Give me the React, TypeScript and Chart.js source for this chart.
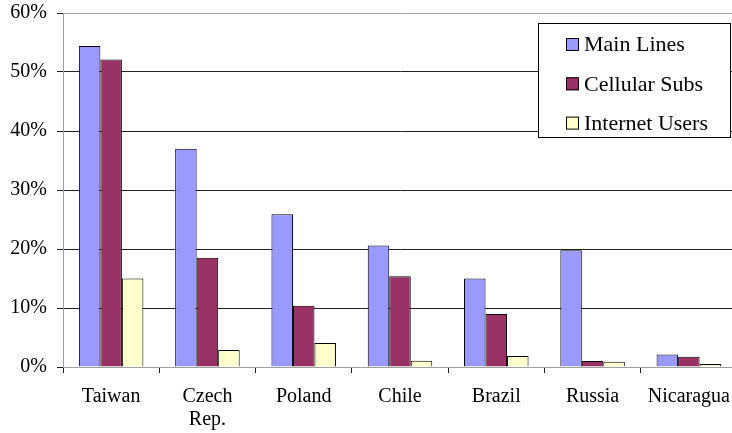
import React, { useEffect, useRef } from "react";
import { Chart, registerables } from "chart.js";

Chart.register(...registerables);

const categories: (string | string[])[] = ["Taiwan", ["Czech", "Rep."], "Poland", "Chile", "Brazil", "Russia", "Nicaragua"];
const seriesNames = ["Main Lines", "Cellular Subs", "Internet Users"];
const mainLines = [54.4, 37.0, 25.9, 20.6, 15.0, 19.8, 2.1];
const cellularSubs = [52.1, 18.5, 10.4, 15.4, 9.0, 1.0, 1.75];
const internetUsers = [15.0, 2.9, 4.05, 1.05, 1.87, 0.9, 0.5];
const seriesColors = ["#9999FF", "#993366", "#FFFFCC"];
const yTicks = [0, 10, 20, 30, 40, 50, 60];

const FONT = "'Liberation Serif', 'DejaVu Serif', serif";

const legendPlugin = {
  id: "boxLegend",
  afterDraw(chart: any) {
    const ctx = chart.ctx;
    const x = 538, y = 23, w = 193, h = 115;
    ctx.save();
    ctx.fillStyle = "#ffffff";
    ctx.fillRect(x, y, w, h);
    ctx.strokeStyle = "#000000";
    ctx.lineWidth = 1;
    ctx.strokeRect(x + 0.5, y + 0.5, w - 1, h - 1);
    ctx.font = `22px ${FONT}`;
    ctx.textBaseline = "middle";
    ctx.textAlign = "left";
    chart.data.datasets.forEach((ds: any, i: number) => {
      const cy = 44.5 + i * 39.3;
      ctx.fillStyle = ds.backgroundColor;
      ctx.fillRect(566, cy - 6.5, 13, 13);
      ctx.strokeStyle = "#000";
      ctx.strokeRect(566.5, cy - 6, 12, 12);
      ctx.fillStyle = "#000";
      ctx.fillText(ds.label, 584, cy + 1);
    });
    ctx.restore();
  },
};

export default function App() {
  const ref = useRef<HTMLCanvasElement>(null);
  useEffect(() => {
    let chart: Chart | null = null;
    let cancelled = false;
    const build = () => {
      if (cancelled || !ref.current) return;
      const data = [mainLines, cellularSubs, internetUsers];
      chart = new Chart(ref.current, {
        type: "bar",
        data: {
          labels: categories,
          datasets: seriesNames.map((name, i) => ({
            label: name,
            data: data[i],
            backgroundColor: seriesColors[i],
            borderColor: "#000000",
            borderWidth: 1,
            barPercentage: 1,
            categoryPercentage: 0.67,
          })),
        },
        options: {
          responsive: false,
          animation: false,
          devicePixelRatio: 1,
          layout: { padding: { top: 13, right: 1, left: 0, bottom: 0 } },
          plugins: { legend: { display: false }, tooltip: { enabled: false } },
          scales: {
            x: {
              grid: { offset: true, drawOnChartArea: false, tickLength: 6, tickColor: "#222" },
              border: { color: "#a0a0a0" },
              ticks: { color: "#000", font: { family: FONT, size: 20, lineHeight: 1.15 }, padding: 12, maxRotation: 0, autoSkip: false },
              afterFit: (s: any) => { s.height = 66; s.paddingLeft = 0; s.paddingRight = 0; },
            },
            y: {
              min: 0,
              max: 60,
              afterBuildTicks: (s: any) => { s.ticks = yTicks.map((v) => ({ value: v })); },
              grid: {
                color: (c: any) => (c.tick && (c.tick.value === 60 || c.tick.value === 0) ? "#a0a0a0" : "#222"),
                tickColor: "#222",
                tickLength: 6,
              },
              border: { color: "#a0a0a0" },
              ticks: { color: "#000", font: { family: FONT, size: 20 }, padding: 10, callback: (v: any) => `${v}%` },
              afterFit: (s: any) => { s.width = 63; s.paddingTop = 0; s.paddingBottom = 0; },
            },
          },
        },
        plugins: [legendPlugin],
      });
    };
    const fontsApi: any = (document as any).fonts;
    if (fontsApi && fontsApi.load) {
      fontsApi.load(`20px 'Liberation Serif'`).then(build, build);
    } else {
      build();
    }
    return () => {
      cancelled = true;
      if (chart) chart.destroy();
    };
  }, []);
  return (
    <div style={{ position: "fixed", left: 0, top: 0, width: 732, height: 433, overflow: "hidden", background: "#fff" }}>
      <canvas ref={ref} width={738} height={433} style={{ display: "block" }} />
      <span style={{ position: "absolute", left: -9999, top: 0, fontFamily: FONT, fontSize: 20 }}>Taiwan</span>
    </div>
  );
}
